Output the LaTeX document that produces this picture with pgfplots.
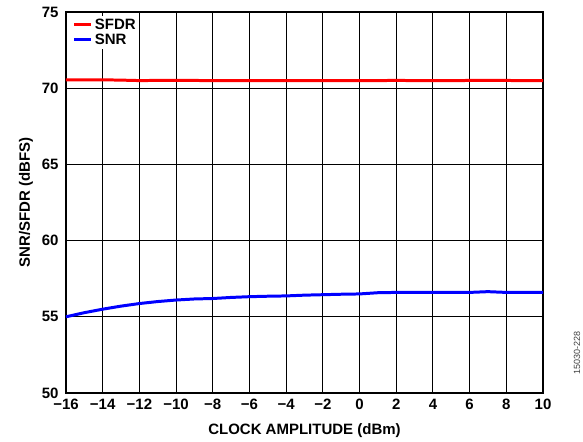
\documentclass[border=0pt]{standalone}
\usepackage{pgfplots}
\pgfplotsset{compat=1.18}
\usepackage{fontspec}
\setmainfont{Liberation Sans}
\begin{document}
\begin{tikzpicture}[x=1bp,y=1bp]
\begin{axis}[
  at={(0,0)}, anchor=south west,
  scale only axis, width=477bp, height=381bp,
  xmin=-16, xmax=10, ymin=50, ymax=75,
  xtick={-16,-14,...,10}, ytick={50,55,...,75},
  xticklabels={−16,−14,−12,−10,−8,−6,−4,−2,0,2,4,6,8,10},
  grid=major, major grid style={black, line width=1.1pt},
  axis line style={black, line width=1.4pt},
  tick style={draw=none},
  /pgf/number format/assume math mode=true,
  every tick label/.append style={font=\fontsize{15bp}{17bp}\selectfont\bfseries},
  xticklabel style={yshift=-3bp},
  yticklabel style={xshift=-4bp},
  xlabel={\fontsize{15bp}{17bp}\selectfont\bfseries CLOCK AMPLITUDE (dBm)},
  ylabel={\fontsize{15bp}{17bp}\selectfont\bfseries SNR/SFDR (dBFS)},
  xlabel style={yshift=-7bp},
  ylabel style={yshift=2bp},
  legend style={at={(0.012,0.99)}, anchor=north west, draw=none, fill=white,
    font=\fontsize{15bp}{15bp}\selectfont\bfseries, inner sep=1bp,
    row sep=-1bp},
  legend cell align=left,
  legend image code/.code={\draw[#1, line width=3pt] (0bp,0bp) -- (17bp,0bp);},
]
\addplot[red, line width=3pt] coordinates {
(-16,70.55) (-15,70.55) (-14,70.55) (-13,70.53) (-12,70.50) (-11,70.51) (-10,70.51) (-9,70.51) (-8,70.49) (-7,70.49) (-6,70.49) (-5,70.49) (-4,70.49) (-3,70.49) (-2,70.49) (-1,70.49) (0,70.49) (1,70.49) (2,70.52) (3,70.49) (4,70.49) (5,70.49) (6,70.51) (7,70.51) (8,70.51) (9,70.49) (10,70.49)
};
\addlegendentry{SFDR}
\addplot[blue, line width=3pt] coordinates {
(-16,55.0) (-15,55.27) (-14,55.5) (-13,55.7) (-12,55.87) (-11,56.0) (-10,56.1) (-9,56.17) (-8,56.2) (-7,56.27) (-6,56.32) (-5,56.35) (-4,56.37) (-3,56.42) (-2,56.45) (-1,56.48) (0,56.5) (1,56.58) (2,56.6) (3,56.6) (4,56.6) (5,56.6) (6,56.6) (7,56.65) (8,56.6) (9,56.6) (10,56.6)
};
\addlegendentry{SNR}
\end{axis}
\node[rotate=90, anchor=east, font=\fontsize{9bp}{9bp}\selectfont, text=black!75, inner sep=0pt] at (511bp,62bp) {15030-228};
\pgfresetboundingbox
\path (-66bp,-49bp) rectangle (517bp,393bp);
\end{tikzpicture}
\end{document}
